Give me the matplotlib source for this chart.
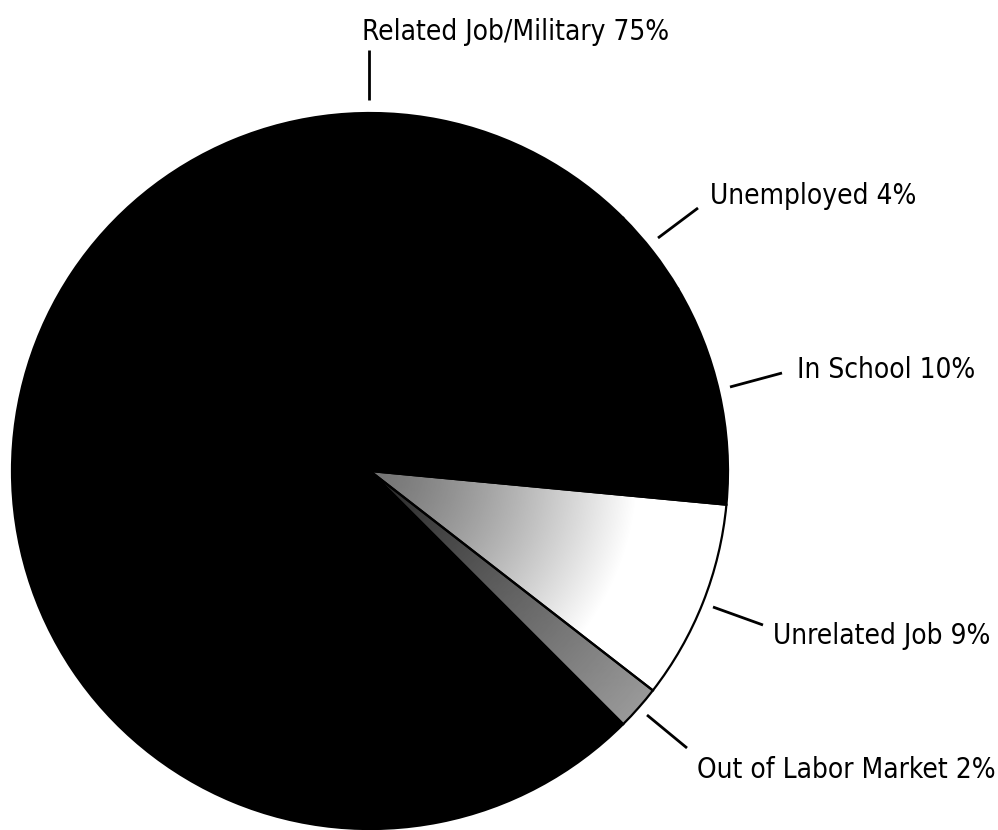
import numpy as np
import matplotlib.pyplot as plt
from matplotlib import font_manager

# Outcome shares, listed in the order the wedges are drawn (clockwise on screen
# starting from the lower right)
categories = ["Out of Labor Market", "Unrelated Job", "In School",
              "Unemployed", "Related Job/Military"]
shares = [2, 9, 10, 4, 75]

# prefer a narrow sans if one is around
fonts = font_manager.fontManager.ttflist
narrow = [f for f in fonts if 'Narrow' in f.name or 'Condensed' in f.name
          or f.stretch in ('condensed', 'semi-condensed', 'extra-condensed')]
narrow = [f for f in narrow if f.style == 'normal' and f.weight in (400, 'normal', 'regular')] or narrow
if narrow:
    font_prop = font_manager.FontProperties(fname=narrow[0].fname)
else:
    font_prop = font_manager.FontProperties(family='Liberation Sans')

W, H = 998, 830
fig = plt.figure(figsize=(W / 100, H / 100), dpi=100)
ax = fig.add_axes([0, 0, 1, 1], frameon=False)

cx, cy, R = 370, 471, 358

# y axis runs downward, so clockwise order is counterclock=False here
wedges, _ = ax.pie(shares, center=(cx, cy), radius=R, startangle=45,
                   counterclock=False,
                   colors=['none', 'none', 'black', 'black', 'black'],
                   wedgeprops=dict(edgecolor='black', linewidth=1.6))
ax.set_xlim(0, W)
ax.set_ylim(H, 0)
ax.set_aspect('equal')
ax.set_xticks([])
ax.set_yticks([])

# stippled shading for the two small wedges, dark near the centre
yy, xx = np.mgrid[0:H, 0:W] + 0.5
dist = np.hypot(xx - cx, yy - cy) / R
shade_unrel = np.clip(0.45 + 0.55 * (dist / 0.75) ** 1.3, 0, 1)
shade_out = np.clip(0.15 + 0.45 * dist, 0, 1)
for w, shade in ((wedges[1], shade_unrel), (wedges[0], shade_out)):
    im = ax.imshow(shade, cmap='gray', vmin=0, vmax=1, extent=(0, W, H, 0),
                   origin='upper', zorder=0.5, interpolation='bilinear')
    im.set_clip_path(w)

# labels with short leader lines
labels = [f"{c} {s}%" for c, s in zip(categories, shares)]
label_pos = {  # text (x, baseline y), leader start, leader end
    "Related Job/Military": ((362, 40), (369, 50), (369, 100)),
    "Unemployed": ((710, 204), (658, 238), (698, 208)),
    "In School": ((797, 378), (730, 387), (782, 373)),
    "Unrelated Job": ((773, 644), (713, 607), (763, 625)),
    "Out of Labor Market": ((697, 778), (647, 715), (687, 748)),
}

# size the type so the longest label spans about 306 px
renderer = fig.canvas.get_renderer()
probe = ax.text(0, 0, labels[-1], fontproperties=font_prop, fontsize=20)
wpx = probe.get_window_extent(renderer).width
probe.remove()
fsize = min(24, 20 * 306 / wpx)

for cat, lab in zip(categories, labels):
    (tx, ty), p0, p1 = label_pos[cat]
    ax.text(tx, ty, lab, fontproperties=font_prop, fontsize=fsize,
            ha='left', va='baseline', color='black')
    ax.plot([p0[0], p1[0]], [p0[1], p1[1]], color='black', lw=2,
            solid_capstyle='butt')

fig.savefig('out.png', dpi=100)
